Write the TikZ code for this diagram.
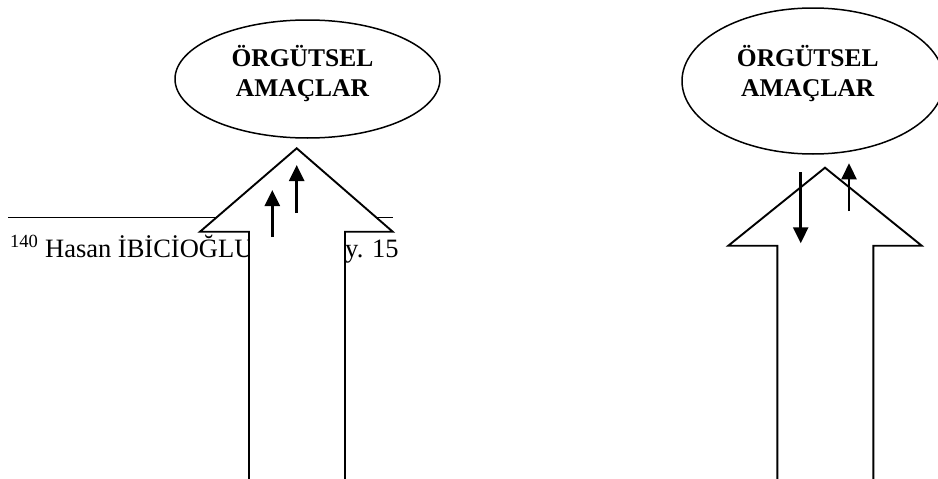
\documentclass[tikz,border=0pt]{standalone}
\usepackage{fontspec}
\setmainfont{Liberation Serif}
\usetikzlibrary{shapes.geometric,arrows.meta}
\tikzset{
  goal/.style={draw,ellipse,line width=1.5pt,inner sep=0pt},
  goaltext/.style={font=\bfseries\fontsize{25.5}{30}\selectfont,align=center,inner sep=0pt},
  bigarrow/.style={draw,fill=white,line width=1.9pt,line join=miter},
  smallarrow/.style={line width=2.6pt,-{Triangle[length=16pt,width=15pt]}},
  foot/.style={font=\fontsize{26.5}{30}\selectfont,inner sep=0pt,anchor=base west}
}
\begin{document}
\begin{tikzpicture}[x=1pt,y=-1pt]
\useasboundingbox[fill=white] (0,0) rectangle (938,479);
% footnote
\coordinate (r1) at (8,217.3);
\coordinate (r2) at (393,217.3);
\draw[line width=1.6pt] (r1) -- (r2);
\node[foot] (fn1) at (10,257) {\textsuperscript{140} Hasan İBİCİOĞLU};
\node[foot] (fn2) at (345,257) {y. 15};
% left big arrow
\draw[bigarrow] (249,481) -- (249,231.7) -- (200,231.7) -- (296.7,148.3) -- (392.7,231.7) -- (345,231.7) -- (345,481);
% right big arrow
\draw[bigarrow] (777.3,481) -- (777.3,245.7) -- (728.3,245.7) -- (825,167.7) -- (921.7,245.7) -- (873.3,245.7) -- (873.3,481);
% small arrows left
\coordinate (a1s) at (272.3,237);
\coordinate (a1e) at (272.3,190);
\coordinate (a2s) at (296.7,213);
\coordinate (a2e) at (296.7,165);
\draw[smallarrow] (a1s) -- (a1e);
\draw[smallarrow] (a2s) -- (a2e);
% small arrows right
\coordinate (b1s) at (800.7,172.3);
\coordinate (b1e) at (800.7,243.3);
\coordinate (b2s) at (849,211);
\coordinate (b2e) at (849,163.3);
\draw[smallarrow] (b1s) -- (b1e);
\draw[smallarrow] (b2s) -- (b2e);
% ellipses
\node[goal,minimum width=265pt,minimum height=118pt] (e1) at (307.5,79) {};
\node[goaltext] (t1) at (302.5,73.5) {ÖRGÜTSEL\\AMAÇLAR};
\node[goal,minimum width=262pt,minimum height=146pt] (e2) at (813,81) {};
\node[goaltext] (t2) at (807.8,73.5) {ÖRGÜTSEL\\AMAÇLAR};
\end{tikzpicture}
\end{document}
